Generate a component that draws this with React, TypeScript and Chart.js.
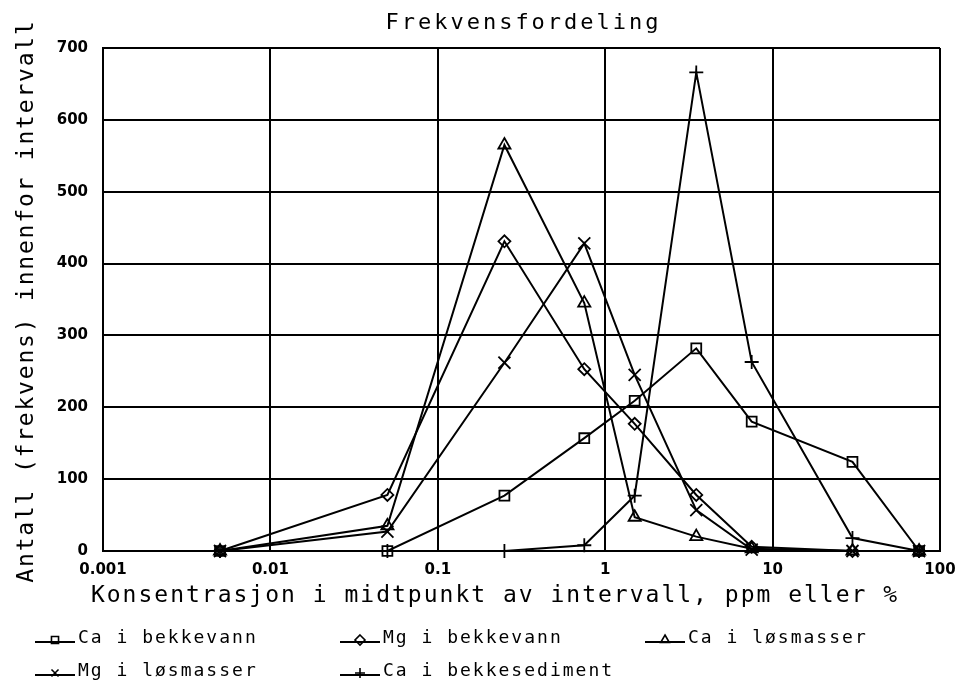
import React, { useEffect, useRef } from "react";
import { Chart, registerables } from "chart.js";

Chart.register(...registerables);

// Midpoints of intervals (ppm or %)
const midpoints = [0.005, 0.05, 0.25, 0.75, 1.5, 3.5, 7.5, 30, 75];

const caBekkevann = [0, 0, 77, 157, 209, 282, 180, 124, 0];
const mgBekkevann = [0, 78, 431, 253, 177, 78, 6, 0, 0];
const caLosmasser = [0, 35, 565, 345, 47, 20, 3, 0, 0];
const mgLosmasser = [0, 27, 262, 428, 245, 57, 2, 0, 0];
const caBekkesediment = [0, 0, 0, 8, 77, 666, 263, 18, 0];

const seriesNames = [
  "Ca i bekkevann",
  "Mg i bekkevann",
  "Ca i løsmasser",
  "Mg i løsmasser",
  "Ca i bekkesediment",
];

const xTickValues = [0.001, 0.01, 0.1, 1, 10, 100];
const xTickLabels = ["0.001", "0.01", "0.1", "1", "10", "100"];
const yTickMax = 700;
const yTickStep = 100;

const titleText = "Frekvensfordeling";
const xTitleText = "Konsentrasjon i midtpunkt av intervall, ppm eller %";
const yTitleText = "Antall (frekvens) innenfor intervall";

const MONO = '"DejaVu Sans Mono", monospace';

type Style = "rect" | "rectRot" | "triangle" | "crossRot" | "cross";
const pointStyles: Style[] = ["rect", "rectRot", "triangle", "crossRot", "cross"];
const pointRadii = [7, 6, 7, 8.5, 7];

function drawMarker(ctx: CanvasRenderingContext2D, style: Style, x: number, y: number, r: number) {
  ctx.beginPath();
  if (style === "rect") {
    const s = r * Math.SQRT1_2;
    ctx.rect(x - s, y - s, 2 * s, 2 * s);
  } else if (style === "rectRot") {
    ctx.moveTo(x, y - r);
    ctx.lineTo(x + r, y);
    ctx.lineTo(x, y + r);
    ctx.lineTo(x - r, y);
    ctx.closePath();
  } else if (style === "triangle") {
    const h = r * 1.5;
    const w = r * 0.866;
    ctx.moveTo(x, y - r);
    ctx.lineTo(x + w, y + h - r);
    ctx.lineTo(x - w, y + h - r);
    ctx.closePath();
  } else if (style === "crossRot") {
    const o = r * Math.SQRT1_2;
    ctx.moveTo(x - o, y - o);
    ctx.lineTo(x + o, y + o);
    ctx.moveTo(x - o, y + o);
    ctx.lineTo(x + o, y - o);
  } else {
    ctx.moveTo(x - r, y);
    ctx.lineTo(x + r, y);
    ctx.moveTo(x, y - r);
    ctx.lineTo(x, y + r);
  }
  ctx.stroke();
}

const textPlugin = {
  id: "customText",
  afterDraw(chart: any) {
    const ctx: CanvasRenderingContext2D = chart.ctx;
    const area = chart.chartArea;
    ctx.save();
    ctx.fillStyle = "#000";
    ctx.strokeStyle = "#000";
    // Title
    (ctx as any).letterSpacing = "3px";
    ctx.font = `22px ${MONO}`;
    ctx.textAlign = "center";
    ctx.textBaseline = "alphabetic";
    ctx.fillText(titleText, (area.left + area.right) / 2 + 2, 29);

    // X axis title
    (ctx as any).letterSpacing = "2px";
    ctx.font = `23px ${MONO}`;
    ctx.fillText(xTitleText, 495, 602);

    // Y axis title
    ctx.save();
    ctx.translate(33, 301);
    ctx.rotate(-Math.PI / 2);
    (ctx as any).letterSpacing = "1.8px";
    ctx.font = `23px ${MONO}`;
    ctx.fillText(yTitleText, 0, 0);
    ctx.restore();

    // Legend
    const cols = [35, 340, 645];
    const rows = [638, 671];
    (ctx as any).letterSpacing = "2px";
    ctx.font = `18px ${MONO}`;
    ctx.textAlign = "left";
    ctx.textBaseline = "middle";
    seriesNames.forEach((name, i) => {
      const x = cols[i % 3];
      const y = rows[Math.floor(i / 3)];
      ctx.lineWidth = 2;
      ctx.beginPath();
      ctx.moveTo(x, y + 4);
      ctx.lineTo(x + 40, y + 4);
      ctx.stroke();
      ctx.lineWidth = 1.6;
      drawMarker(ctx, pointStyles[i], x + 20, y + 2, 5);
      ctx.fillText(name, x + 43, y);
    });
    ctx.restore();
  },
};

export default function App() {
  const canvasRef = useRef<HTMLCanvasElement | null>(null);

  useEffect(() => {
    document.body.style.margin = "0";
    const canvas = canvasRef.current;
    if (!canvas) return;
    const allSeries = [caBekkevann, mgBekkevann, caLosmasser, mgLosmasser, caBekkesediment];
    const datasets = allSeries.map((vals, i) => ({
      label: seriesNames[i],
      data: midpoints.map((x, j) => ({ x, y: vals[j] })),
      borderColor: "#000",
      borderWidth: 2,
      backgroundColor: "transparent",
      pointStyle: pointStyles[i],
      pointRadius: pointRadii[i],
      pointBorderWidth: 1.8,
      pointBorderColor: "#000",
      pointBackgroundColor: "transparent",
      tension: 0,
      clip: false as any,
    }));

    const chart = new Chart(canvas, {
      type: "line",
      data: { datasets },
      options: {
        animation: false,
        responsive: false,
        devicePixelRatio: 1,
        layout: { padding: { top: 48, right: 22, left: 0, bottom: 0 } },
        plugins: {
          legend: { display: false },
          title: { display: false },
          tooltip: { enabled: false },
        },
        scales: {
          x: {
            type: "logarithmic",
            min: xTickValues[0],
            max: xTickValues[xTickValues.length - 1],
            afterBuildTicks: (scale: any) => {
              scale.ticks = xTickValues.map((v) => ({ value: v }));
            },
            afterFit: (scale: any) => {
              scale.height = 141;
              scale.paddingLeft = 0;
              scale.paddingRight = 0;
            },
            ticks: {
              autoSkip: false,
              maxRotation: 0,
              padding: 10,
              color: "#000",
              font: { family: '"DejaVu Sans", sans-serif', size: 15, weight: "bold" },
              callback: (_v: any, i: number) => xTickLabels[i],
            },
            grid: { color: "#000", lineWidth: 2, drawTicks: false },
            border: { color: "#000", width: 2 },
          },
          y: {
            type: "linear",
            min: 0,
            max: yTickMax,
            afterFit: (scale: any) => {
              scale.width = 103;
              scale.paddingTop = 0;
              scale.paddingBottom = 0;
            },
            ticks: {
              stepSize: yTickStep,
              padding: 15,
              color: "#000",
              font: { family: '"DejaVu Sans", sans-serif', size: 15, weight: "bold" },
            },
            grid: { color: "#000", lineWidth: 2, drawTicks: false },
            border: { color: "#000", width: 2 },
          },
        },
      },
      plugins: [textPlugin],
    } as any);
    return () => chart.destroy();
  }, []);

  return (
    <div style={{ position: "absolute", left: 0, top: 0, width: 962, height: 692, background: "#fff" }}>
      <canvas ref={canvasRef} width={962} height={692} style={{ width: 962, height: 692, display: "block" }} />
    </div>
  );
}
